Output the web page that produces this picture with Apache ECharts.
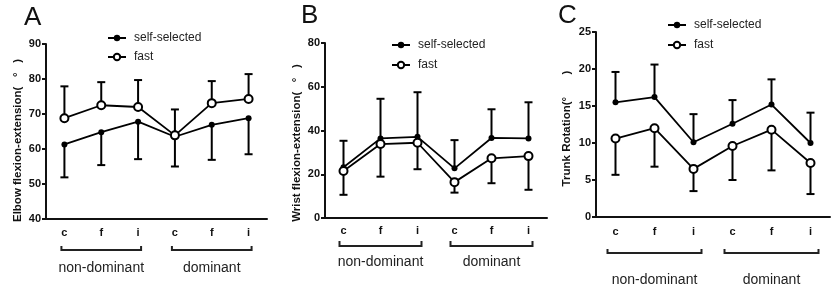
<!DOCTYPE html>
<html><head><meta charset="utf-8">
<script src="https://cdn.jsdelivr.net/npm/echarts@6/dist/echarts.min.js"></script>
<style>html,body{margin:0;padding:0;background:#fff}#c{width:839px;height:295px}</style>
</head><body><div id="c"></div>
<script>
// ---- data ----
const categories = ['c', 'f', 'i', 'c', 'f', 'i'];
const groupNames = ['non-dominant', 'dominant'];
const groupSpans = [[0, 2], [3, 5]];
const seriesNames = ['self-selected', 'fast'];
const panelLetters = ['A', 'B', 'C'];
const yTitles = ['Elbow flexion-extension(   °   )', 'Wrist flexion-extension(   °   )', 'Trunk Rotation(°       )'];
const yMin = [40, 0, 0];
const yMax = [90, 80, 25];
const yStep = [10, 20, 5];

const elbowSelf = [61.3, 64.8, 67.8, 63.5, 66.9, 68.8];
const elbowSelfSD = [9.4, 9.4, 10.7, 8.5, 10.0, 10.3];
const elbowFast = [68.8, 72.5, 72.0, 63.9, 73.1, 74.3];
const elbowFastSD = [9.1, 6.6, 7.7, 7.4, 6.3, 7.1];

const wristSelf = [23.2, 36.4, 37.1, 22.7, 36.6, 36.4];
const wristSelfSD = [12.1, 18.1, 20.4, 12.9, 13.1, 16.5];
const wristFast = [21.5, 33.8, 34.4, 16.4, 27.3, 28.3];
const wristFastSD = [10.9, 14.9, 12.1, 4.8, 11.4, 15.4];

const trunkSelf = [15.5, 16.2, 10.1, 12.6, 15.2, 10.0];
const trunkSelfSD = [4.1, 4.4, 3.8, 3.2, 3.4, 4.1];
const trunkFast = [10.6, 12.0, 6.5, 9.6, 11.8, 7.3];
const trunkFastSD = [4.9, 5.2, 3.0, 4.6, 5.5, 4.2];

// ---- layout / style ----
const FONT = 'Liberation Sans, Arial, sans-serif';
const panels = [
  {self: elbowSelf, selfSD: elbowSelfSD, fast: elbowFast, fastSD: elbowFastSD, selfDir: -1, fastDir: 1,
   grid: {left: 46, top: 44, width: 221, height: 175}, title: {left: 24, top: 5},
   legend: {left: 107, top: 32, gap: 7}, nameGap: 22, namePad: 18, labelMargin: 8,
   br: {dy: 31, h: 4, ext: 3, ldy: 49}},
  {self: wristSelf, selfSD: wristSelfSD, fast: wristFast, fastSD: wristFastSD, selfDir: 1, fastDir: -1,
   grid: {left: 325, top: 43, width: 222, height: 175}, title: {left: 301, top: 3},
   legend: {left: 391, top: 39, gap: 8}, nameGap: 22, namePad: 25, labelMargin: 7,
   br: {dy: 28, h: 5, ext: 4, ldy: 44}},
  {self: trunkSelf, selfSD: trunkSelfSD, fast: trunkFast, fastSD: trunkFastSD, selfDir: 1, fastDir: -1,
   grid: {left: 596, top: 32, width: 234, height: 185}, title: {left: 558, top: 3},
   legend: {left: 667, top: 19, gap: 8}, nameGap: 23, namePad: 8, labelMargin: 9,
   br: {dy: 36, h: 4, ext: 8, ldy: 63}}
];

function errRender(params, api) {
  const i = api.value(0), v = api.value(1), e = api.value(2);
  const p0 = api.coord([i, v]), p1 = api.coord([i, e]);
  return {type: 'group', children: [
    {type: 'line', shape: {x1: p0[0], y1: p0[1], x2: p1[0], y2: p1[1]}, style: {stroke: '#000', lineWidth: 2}},
    {type: 'line', shape: {x1: p1[0] - 4, y1: p1[1], x2: p1[0] + 4, y2: p1[1]}, style: {stroke: '#000', lineWidth: 2}}
  ]};
}
function bracketRender(b) {
  return function (params, api) {
    const a = api.coord([api.value(0), api.value(2)]);
    const z = api.coord([api.value(1), api.value(2)]);
    const base = params.coordSys.y + params.coordSys.height;
    const y = base + b.dy, x0 = a[0] - b.ext, x1 = z[0] + b.ext;
    return {type: 'group', children: [
      {type: 'polyline', shape: {points: [[x0, y - b.h], [x0, y], [x1, y], [x1, y - b.h]]},
       style: {stroke: '#222', lineWidth: 2, fill: null}},
      {type: 'text', style: {text: groupNames[params.dataIndex], x: (x0 + x1) / 2, y: base + b.ldy,
        fill: '#222', fontSize: 14, fontFamily: FONT, align: 'center', verticalAlign: 'middle'}}
    ]};
  };
}

const option = {animation: false, title: [], grid: [], xAxis: [], yAxis: [], legend: [], series: []};
panels.forEach((p, k) => {
  option.title.push({text: panelLetters[k], left: p.title.left, top: p.title.top, padding: 0,
    textStyle: {fontSize: 26, fontWeight: 'normal', color: '#111', fontFamily: FONT}});
  option.grid.push(Object.assign({containLabel: false}, p.grid));
  option.xAxis.push({type: 'category', gridIndex: k, data: categories, boundaryGap: true,
    axisLine: {lineStyle: {color: '#111', width: 2}},
    axisTick: {alignWithLabel: true, length: 4, lineStyle: {width: 2, color: '#111'}},
    axisLabel: {margin: p.labelMargin, fontSize: 11, fontWeight: 'bold', color: '#111', fontFamily: FONT, interval: 0},
    splitLine: {show: false}});
  option.yAxis.push({type: 'value', gridIndex: k, min: yMin[k], max: yMax[k], interval: yStep[k],
    name: yTitles[k], nameLocation: 'middle', nameRotate: 90, nameGap: p.nameGap,
    nameTextStyle: {fontSize: 11.5, fontWeight: 'bold', color: '#111', fontFamily: FONT, padding: [0, p.namePad, 0, 0]},
    axisLine: {show: true, lineStyle: {color: '#111', width: 2}},
    axisTick: {show: true, length: 4, lineStyle: {width: 2, color: '#111'}},
    axisLabel: {margin: 5, fontSize: 11, fontWeight: 'bold', color: '#111', fontFamily: FONT},
    splitLine: {show: false}});
  option.legend.push({left: p.legend.left, top: p.legend.top, padding: 0, orient: 'vertical', itemWidth: 18, itemHeight: 8,
    itemGap: p.legend.gap, data: seriesNames, selectedMode: false,
    textStyle: {fontSize: 12, color: '#222', fontFamily: FONT, padding: [0, 0, 0, 3]}});
  option.series.push(
    {type: 'custom', xAxisIndex: k, yAxisIndex: k, renderItem: errRender, clip: false, z: 1, silent: true,
     encode: {x: 0, y: [1, 2]}, data: p.self.map((v, j) => [j, v, v + p.selfDir * p.selfSD[j]])},
    {type: 'custom', xAxisIndex: k, yAxisIndex: k, renderItem: errRender, clip: false, z: 1, silent: true,
     encode: {x: 0, y: [1, 2]}, data: p.fast.map((v, j) => [j, v, v + p.fastDir * p.fastSD[j]])},
    {name: seriesNames[0], type: 'line', xAxisIndex: k, yAxisIndex: k, data: p.self, z: 3,
     symbol: 'circle', symbolSize: 6, itemStyle: {color: '#000'}, lineStyle: {color: '#000', width: 1.8},
     emphasis: {disabled: true}},
    {name: seriesNames[1], type: 'line', xAxisIndex: k, yAxisIndex: k, data: p.fast, z: 3,
     symbol: 'emptyCircle', symbolSize: 8, itemStyle: {color: '#000', borderWidth: 2}, lineStyle: {color: '#000', width: 1.8},
     emphasis: {disabled: true}},
    {type: 'custom', xAxisIndex: k, yAxisIndex: k, renderItem: bracketRender(p.br), clip: false, silent: true,
     encode: {x: [0, 1], y: 2}, data: groupSpans.map(s => [s[0], s[1], yMin[k]])}
  );
});
const chart = echarts.init(document.getElementById('c'), null, {renderer: 'canvas'});
chart.setOption(option);
</script></body></html>
